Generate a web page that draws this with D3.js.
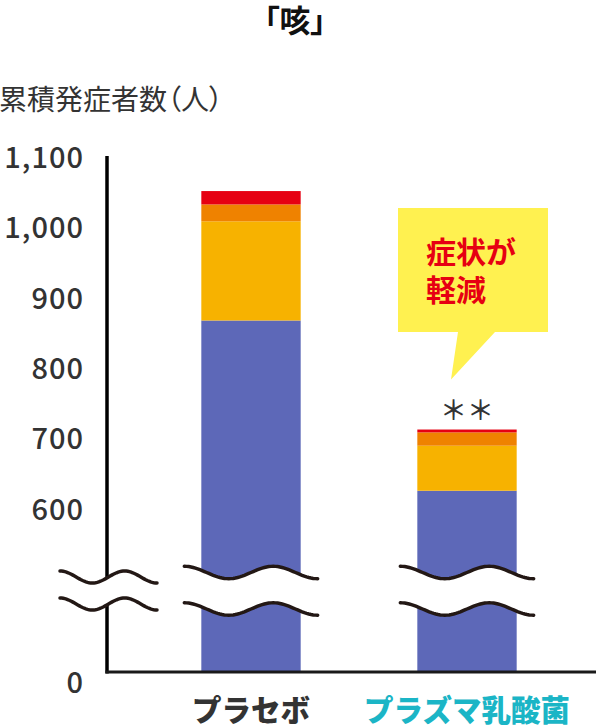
<!DOCTYPE html>
<html>
<head>
<meta charset="utf-8">
<script src="https://cdn.jsdelivr.net/npm/d3@7"></script>
<style>
  html, body { margin: 0; padding: 0; background: #fff; }
  svg { display: block; font-family: "Noto Sans CJK JP", "Noto Sans", sans-serif; }
</style>
</head>
<body>
<div id="chart"></div>
<script>
"use strict";

// data
const categories = ["プラセボ", "プラズマ乳酸菌"];
const categoryColors = ["#333333", "#1bb5c6"];
const seriesKeys = ["base", "mid", "upper", "top"];
const seriesColors = ["#5d68b8", "#f7b200", "#ef8200", "#e60012"];
const baseValues = [869, 627];
const midValues = [141, 64];
const upperValues = [24, 19];
const topValues = [19, 4];
const tickValues = [0, 600, 700, 800, 900, 1000, 1100];

const width = 596;
const height = 728;

const rows = categories.map((c, i) => ({
  name: c,
  base: baseValues[i],
  mid: midValues[i],
  upper: upperValues[i],
  top: topValues[i],
}));

const stacked = d3.stack().keys(seriesKeys)(rows);

const svg = d3
  .select("#chart")
  .append("svg")
  .attr("width", width)
  .attr("height", height);

// broken axis: 0 .. 520 squeezed into the bottom part
const y = d3.scaleLinear().domain([0, 520, 1100]).range([672, 566, 158]);

const x = d3
  .scaleBand()
  .domain(categories)
  .range([143, 575])
  .paddingInner(0.54)
  .paddingOuter(0.27);

// title
svg
  .append("text")
  .attr("x", 295)
  .attr("y", 32)
  .attr("text-anchor", "middle")
  .attr("font-size", 31)
  .attr("font-weight", 700)
  .attr("fill", "#111")
  .style("font-feature-settings", '"palt"')
  .text("「咳」");

svg
  .append("text")
  .attr("x", -1)
  .attr("y", 110)
  .attr("font-size", 28)
  .attr("fill", "#333")
  .style("font-feature-settings", '"palt"')
  .text("累積発症者数（人）");

// bars
svg
  .append("g")
  .selectAll("g")
  .data(stacked)
  .join("g")
  .attr("fill", (d, i) => seriesColors[i])
  .selectAll("rect")
  .data((d) => d)
  .join("rect")
  .attr("x", (d) => x(d.data.name))
  .attr("width", x.bandwidth())
  .attr("y", (d) => y(d[1]))
  .attr("height", (d) => y(d[0]) - y(d[1]));

// axes
const axisX = 107;
svg
  .append("line")
  .attr("x1", axisX)
  .attr("x2", axisX)
  .attr("y1", y(1100) - 2)
  .attr("y2", y(0) + 1.5)
  .attr("stroke", "#000")
  .attr("stroke-width", 3.5);

svg
  .append("line")
  .attr("x1", axisX - 1.5)
  .attr("x2", width)
  .attr("y1", y(0))
  .attr("y2", y(0))
  .attr("stroke", "#1a1a1a")
  .attr("stroke-width", 3);

const yAxis = d3
  .axisLeft(y)
  .tickValues(tickValues)
  .tickSize(0)
  .tickPadding(0)
  .tickFormat(d3.format(","));

svg
  .append("g")
  .attr("transform", "translate(84,0)")
  .call(yAxis)
  .call((g) => g.select(".domain").remove())
  .call((g) =>
    g
      .selectAll("text")
      .attr("font-size", 29)
      .attr("font-weight", 500)
      .attr("font-family", '"Noto Sans CJK JP", sans-serif')
      .attr("letter-spacing", 1)
      .attr("fill", "#333")
      .attr("dy", (d) => (d === 0 ? "0.7em" : "0.33em"))
  );

// break marks
function wavePoints(x0, x1, cy, amp) {
  return d3.range(0, 61).map((k) => {
    const t = k / 60;
    return [x0 + (x1 - x0) * t, cy - amp * Math.cos(Math.PI * 3 * t)];
  });
}

function drawBreak(x0, x1, cyTop, cyBottom, amp) {
  const top = wavePoints(x0, x1, cyTop, amp);
  const bottom = wavePoints(x0, x1, cyBottom, amp).reverse();
  const g = svg.append("g");
  g.append("path")
    .attr("d", d3.line()(top.concat(bottom)) + "Z")
    .attr("fill", "#fff");
  [top, bottom].forEach((pts) => {
    g.append("path")
      .attr("d", d3.line()(pts))
      .attr("fill", "none")
      .attr("stroke", "#231815")
      .attr("stroke-width", 3.5)
      .attr("stroke-linecap", "round");
  });
}

const breakY = y(520);
drawBreak(axisX - 47, axisX + 50, breakY + 11, breakY + 38, 6);
categories.forEach((c) => {
  const bx = x(c);
  drawBreak(bx - 17, bx + x.bandwidth() + 17, breakY + 6.5, breakY + 43, 6.2);
});

// category labels
svg
  .append("g")
  .selectAll("text")
  .data(categories)
  .join("text")
  .attr("x", (d) => x(d) + x.bandwidth() / 2)
  .attr("y", 721)
  .attr("text-anchor", "middle")
  .attr("font-size", 29.5)
  .attr("font-weight", 800)
  .attr("fill", (d, i) => categoryColors[i])
  .text((d) => d);

// significance + speech bubble over the second bar
const b2 = rows[1];
const cx2 = x(b2.name) + x.bandwidth() / 2;
const topY2 = y(b2.base + b2.mid + b2.upper + b2.top);

svg
  .append("text")
  .attr("x", cx2)
  .attr("y", topY2 - 10)
  .attr("text-anchor", "middle")
  .attr("font-size", 27)
  .attr("font-weight", 500)
  .attr("fill", "#333")
  .text("＊＊");

const bubble = d3.path();
bubble.moveTo(cx2 - 69, 208);
bubble.lineTo(cx2 + 81, 208);
bubble.lineTo(cx2 + 81, 332);
bubble.lineTo(cx2 + 28, 332);
bubble.lineTo(cx2 - 16, topY2 - 50);
bubble.lineTo(cx2 - 9, 332);
bubble.lineTo(cx2 - 69, 332);
bubble.closePath();

svg
  .append("path")
  .attr("d", bubble.toString())
  .attr("fill", "#fff150");

const bubbleText = svg
  .append("text")
  .attr("font-size", 30)
  .attr("font-weight", 700)
  .attr("fill", "#e60012");
["症状が", "軽減"].forEach((s, i) => {
  bubbleText
    .append("tspan")
    .attr("x", cx2 - 41)
    .attr("y", 263 + i * 38)
    .text(s);
});
</script>
</body>
</html>
